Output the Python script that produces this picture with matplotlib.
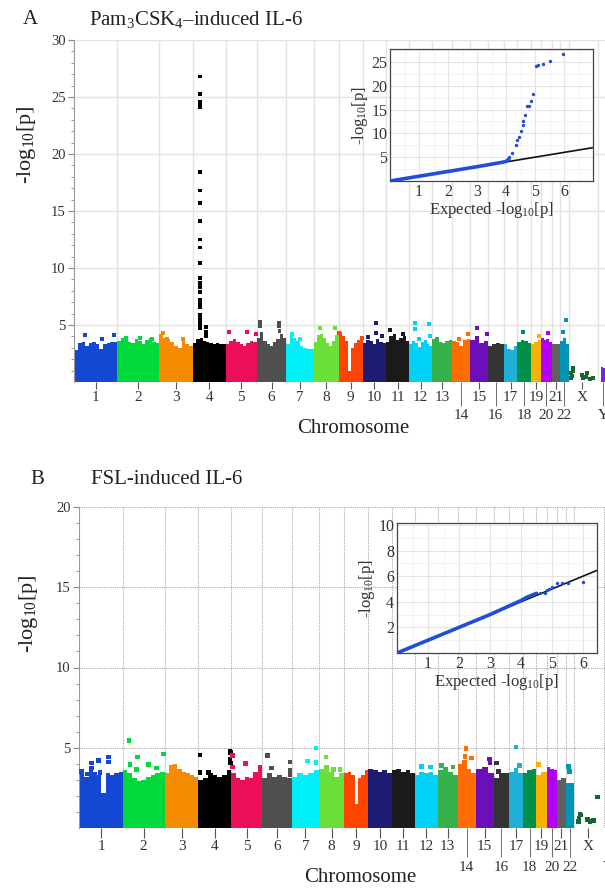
import matplotlib
matplotlib.use("Agg")
import matplotlib.pyplot as plt
import numpy as np

plt.rcParams['font.family'] = ['Liberation Serif', 'DejaVu Serif']
plt.rcParams['mathtext.fontset'] = 'custom'
plt.rcParams['mathtext.rm'] = 'Liberation Serif'
plt.rcParams['mathtext.it'] = 'Liberation Serif:italic'
plt.rcParams['text.color'] = '#222222'

W, H = 605, 891

# chromosomes and sizes (Mb)
chroms = [str(i) for i in range(1, 23)] + ['X', 'Y']
chrom_len = [249.3, 243.2, 198.0, 191.2, 180.9, 171.1, 159.1, 146.4, 141.2, 135.5,
             135.0, 133.9, 115.2, 107.3, 102.5, 90.4, 81.2, 78.1, 59.1, 63.0,
             48.1, 51.3, 155.3, 59.4]
chrom_colors = ['#1347d4', '#00d83c', '#f58b00', '#000000', '#ec0f57', '#4f4f4f',
                '#00f0f8', '#69df38', '#ff4300', '#1e1b73', '#1a1a1a', '#00d2f7',
                '#35b24c', '#ff6c00', '#6b0fb8', '#343434', '#1fb0d9', '#00904a',
                '#f7b100', '#b200f5', '#606060', '#0094b5', '#12682f', '#7b22e0']
lower_row = ['14', '16', '18', '20', '22', 'Y']

# top envelope of the dense SNP mass, per chromosome (panel A)
sky_a = [
    [2.8, 3.4, 3.5, 3.2, 3.4, 3.5, 3.3, 2.9, 3.3, 3.4, 3.5, 3.5],
    [3.6, 3.9, 4.0, 3.5, 3.4, 3.8, 3.6, 3.3, 3.7, 3.9, 3.5, 3.4],
    [4.2, 3.9, 3.8, 3.5, 3.2, 3.0, 3.6, 3.3, 3.2],
    [3.4, 3.8, 3.9, 3.6, 3.5, 3.4, 3.3, 3.4, 3.3, 3.3],
    [3.3, 3.6, 3.8, 3.5, 3.3, 3.2, 3.4, 3.6, 3.5],
    [3.9, 4.4, 3.6, 3.3, 3.2, 3.5, 3.8, 4.2, 3.9],
    [3.3, 4.2, 3.9, 3.6, 3.2, 3.0, 2.9, 2.9],
    [3.5, 4.1, 4.2, 3.9, 3.4, 3.2, 3.6, 4.1],
    [4.4, 4.0, 3.6, 1.0, 3.0, 3.4, 3.7, 3.9],
    [3.4, 3.7, 3.6, 3.3, 3.8, 3.5, 3.4],
    [3.5, 4.0, 4.2, 3.7, 3.9, 4.0, 3.6],
    [3.3, 3.6, 3.4, 3.1, 3.5, 3.7, 3.3, 3.2],
    [3.8, 3.7, 3.5, 3.4, 3.6, 3.7],
    [3.6, 3.5, 3.2, 3.7, 3.8],
    [3.7, 4.0, 3.4, 3.6],
    [3.2, 3.3, 3.4, 3.3],
    [3.3, 2.9, 2.8, 3.2],
    [3.5, 3.7, 3.6, 3.4],
    [3.3, 3.5, 3.7],
    [3.9, 3.7, 3.8, 3.5],
    [3.3, 3.3],
    [3.6, 3.9, 3.3],
    [0.0],
    [0.0, 1.3, 1.2, 0.9],
]

# single SNPs standing above the mass (panel A)
out_a_chr = ['1', '1', '1', '2', '2', '3', '3', '3'] + ['4'] * 27 + \
    ['5', '5', '5', '6', '6', '6', '6', '6', '7', '7', '8', '8', '9', '9',
     '10', '10', '10', '10', '11', '11', '12', '12', '12', '12', '12', '13',
     '14', '14', '15', '15', '18', '19', '20', '22', '22'] + ['X'] * 11
out_a_pos = [61, 158, 232, 132, 200, 21, 45, 138] + [38.8] * 24 + [75, 75, 76] + \
    [20, 122, 176, 19, 19, 130, 130, 132, 32, 80, 38, 125, 3, 134,
     76, 76, 32, 109, 23, 100, 33, 33, 117, 121, 57, 26,
     43, 92, 37, 95, 34, 49, 42, 33, 19] + \
    [22, 24, 10, 15, 75, 104, 123, 84, 138, 100, 18]
out_a_val = [4.1, 3.8, 4.1, 3.9, 3.8, 4.3, 3.8, 3.8] + \
    [26.8, 25.3, 24.6, 24.3, 24.1, 18.4, 16.8, 15.7, 14.1, 12.5, 11.8, 10.4,
     9.1, 8.7, 8.3, 7.9, 7.2, 6.9, 6.6, 5.9, 5.6, 5.3, 5.0, 4.7, 4.8, 4.4, 4.0] + \
    [4.35, 4.35, 4.2, 5.3, 4.9, 5.2, 4.9, 4.5, 4.2, 3.8, 4.7, 4.7, 4.3, 3.9,
     5.15, 4.3, 3.95, 4.0, 4.55, 4.2, 5.2, 4.65, 5.1, 4.0, 3.8, 3.8,
     3.8, 4.2, 4.7, 4.2, 4.35, 4.0, 4.3, 5.45, 4.35] + \
    [1.2, 1.0, 0.35, 0.8, 0.6, 0.75, 0.3, 0.35, 0.35, 0.4, 0.5]

# panel B
sky_b = [
    [3.5, 3.2, 3.6, 3.5, 3.3, 2.2, 3.4, 3.3, 3.4, 3.5],
    [3.6, 3.4, 3.1, 2.9, 3.0, 3.2, 3.3, 3.4, 3.5],
    [3.4, 3.9, 4.0, 3.7, 3.5, 3.4, 3.3, 3.2],
    [3.0, 3.1, 3.4, 3.3, 3.2, 3.3, 3.6],
    [3.4, 3.1, 3.0, 3.2, 3.1, 3.5, 3.9],
    [3.1, 3.4, 3.2, 3.3, 3.2, 3.1],
    [3.2, 3.4, 3.3, 3.4, 3.6],
    [3.7, 3.9, 3.5, 3.2, 3.4],
    [3.4, 3.5, 3.3, 1.5, 3.1, 3.3, 3.6],
    [3.7, 3.6, 3.5, 3.6, 3.4],
    [3.6, 3.7, 3.5, 3.6, 3.4],
    [3.3, 3.5, 3.4, 3.5, 3.3],
    [3.6, 3.8, 3.5, 3.3],
    [4.0, 4.2, 3.7, 3.4],
    [3.7, 3.8, 3.4],
    [3.1, 3.4, 3.4],
    [3.5, 3.6, 3.4],
    [3.4, 3.6, 3.7],
    [3.3, 3.5],
    [3.8, 3.7, 3.6],
    [3.0, 3.1],
    [2.8, 2.8],
    [0.0],
    [0.0],
]

out_b_chr = ['1'] * 8 + ['2'] * 7 + ['4'] * 7 + ['5'] * 3 + ['6'] * 5 + ['7'] * 3 + \
    ['8'] * 3 + ['12'] * 2 + ['13'] * 2 + ['14'] * 4 + ['15'] * 2 + ['16'] * 2 + \
    ['17'] * 3 + ['19'] + ['22'] * 2 + ['X'] * 8
out_b_pos = [68, 107, 165, 165, 68, 117, 10, 43,
             36, 85, 42, 81, 149, 198, 236,
             9, 9, 57, 184, 186, 184, 185,
             6, 6, 84,
             29, 55, 162, 162, 162,
             91, 142, 142,
             41, 84, 123,
             40, 93,
             23, 90,
             50, 44, 83, 40,
             78, 82,
             19, 28,
             41, 60, 41,
             11,
             16, 22,
             23, 33, 38, 75, 110, 90, 136, 28]
out_b_val = [4.04, 4.2, 4.42, 4.1, 3.73, 3.46, 3.52, 3.37,
             5.46, 4.42, 3.94, 3.63, 3.94, 3.73, 4.62,
             4.56, 3.46, 3.46, 4.77, 4.7, 4.25, 4.04,
             4.5, 3.8, 4.0,
             4.5, 3.73, 4.1, 3.6, 3.35,
             4.17, 4.98, 4.08,
             4.42, 3.63, 3.63,
             3.83, 3.79,
             3.9, 3.79,
             4.94, 4.46, 4.35, 4.1,
             4.31, 4.04,
             4.04, 3.52,
             5.04, 3.9, 3.6,
             3.94,
             3.83, 3.52,
             0.4, 0.87, 0.8, 0.54, 0.46, 0.4, 1.92, 0.6]

# QQ plots: dense band drawn as a thick line, tail as dots
qq_a_line_x = [0, 1, 2, 3, 3.8, 4.0, 4.1]
qq_a_line_y = [0, 1, 2, 3, 3.85, 4.1, 4.6]
qq_a_dot_x = [4.1, 4.21, 4.33, 4.39, 4.45, 4.5, 4.57, 4.6, 4.67, 4.74, 4.79, 4.86,
              4.94, 5.03, 5.12, 5.26, 5.5, 5.98]
qq_a_dot_y = [5.1, 5.95, 7.56, 8.6, 9.2, 10.4, 11.8, 12.5, 13.9, 15.7, 15.8, 16.8,
              18.3, 24.1, 24.3, 24.6, 25.2, 26.7]
qq_b_line_x = [0, 1, 2, 3, 4.0, 4.18, 4.5]
qq_b_line_y = [0, 1, 2, 3, 4.1, 4.35, 4.66]
qq_b_dot_x = [4.6, 4.77, 4.83, 4.9, 4.99, 5.15, 5.31, 5.52, 6.01]
qq_b_dot_y = [4.68, 4.7, 4.9, 5.0, 5.13, 5.45, 5.5, 5.5, 5.55]

SCALE = 0.1716          # px per Mb
starts = np.concatenate([[0], np.cumsum(chrom_len[:-1])])
starts[-1] += 15        # small gap before Y
centers = starts + np.array(chrom_len) / 2
bounds = starts[1:]

fig = plt.figure(figsize=(W / 100, H / 100), dpi=100)


def px_axes(l, t, r, b):
    return fig.add_axes([l / W, 1 - b / H, (r - l) / W, (b - t) / H])


def manhattan(ax, sky, o_chr, o_pos, o_val, msize):
    for i, h in enumerate(sky):
        edges = np.linspace(starts[i], starts[i] + chrom_len[i], len(h) + 1)
        ax.stairs(h, edges, fill=True, color=chrom_colors[i], lw=0, zorder=2)
    idx = [chroms.index(c) for c in o_chr]
    xs = [starts[i] + p for i, p in zip(idx, o_pos)]
    ax.scatter(xs, o_val, marker='s', s=msize, c=[chrom_colors[i] for i in idx],
               lw=0, zorder=3)


def style_main(ax, left_px, s1_px, ymax, grid_kw, short_t, long_t):
    ax.set_xlim((left_px - s1_px) / SCALE, (640 - s1_px) / SCALE)
    ax.set_ylim(0, ymax)
    for b in bounds:
        ax.axvline(b, zorder=0, **grid_kw)
    for yv in range(5, ymax + 1, 5):
        ax.axhline(yv, zorder=0, **grid_kw)
    for s in ['top', 'right', 'bottom']:
        ax.spines[s].set_visible(False)
    ax.spines['left'].set_color('#999999')
    ax.set_yticks(range(5, ymax + 1, 5))
    ax.set_yticks(range(1, ymax), minor=True)
    ax.tick_params(axis='y', which='major', length=4.5, color='#888888',
                   labelsize=10.5, labelcolor='#333333', pad=1.5)
    ax.tick_params(axis='y', which='minor', length=2, color='#888888')
    up = [i for i, c in enumerate(chroms) if c not in lower_row]
    lo = [i for i, c in enumerate(chroms) if c in lower_row]
    ax.set_xticks(centers[up], [chroms[i] for i in up])
    ax.set_xticks(centers[lo], [chroms[i] for i in lo], minor=True)
    ax.tick_params(axis='x', which='major', length=short_t, color='#555555',
                   labelsize=11, labelcolor='#333333', pad=1.5)
    ax.tick_params(axis='x', which='minor', length=long_t, color='#555555',
                   labelsize=11, labelcolor='#333333', pad=2.5)


def qq_inset(ax, xmax, ymax, yt, lx, ly, dx, dy):
    ax.set_xlim(0, xmax)
    ax.set_ylim(0, ymax)
    ax.plot([0, xmax], [0, xmax], color='#111111', lw=1.2, zorder=2)
    ax.plot(lx, ly, color='#1f4fd8', lw=2.6, solid_capstyle='round', zorder=3)
    ax.scatter(dx, dy, s=6, color='#1f4fd8', lw=0, zorder=4)
    ax.set_xticks(range(1, 7))
    ax.set_yticks(yt)
    ax.set_xticks(np.arange(0.5, xmax, 0.5), minor=True)
    ax.set_yticks(np.arange(yt[0] / 2, ymax, yt[0] / 2), minor=True)
    ax.grid(which='major', color='#e4e4e4', lw=0.8)
    ax.grid(which='minor', color='#f1f1f1', lw=0.6)
    ax.set_axisbelow(True)
    ax.tick_params(which='both', length=0, labelsize=11.5, labelcolor='#333333', pad=2)
    for s in ax.spines.values():
        s.set_color('#444444')
        s.set_linewidth(0.9)
    ax.set_xlabel(r'Expected -log$_{10}$[p]', fontsize=12, labelpad=0, color='#333333')
    ax.set_ylabel(r'-log$_{10}$[p]', fontsize=12, labelpad=1, color='#333333')


# ---- panel A
ax_a = px_axes(74, 40, 640, 382)
manhattan(ax_a, sky_a, out_a_chr, out_a_pos, out_a_val, 8)
style_main(ax_a, 74, 74.5, 30, dict(color='#e3e3e3', lw=1), 5, 17)

ia = px_axes(390, 49, 593, 181)
qq_inset(ia, 7, 27.7, [5, 10, 15, 20, 25], qq_a_line_x, qq_a_line_y, qq_a_dot_x, qq_a_dot_y)

# ---- panel B
ax_b = px_axes(79, 507, 640, 828)
manhattan(ax_b, sky_b, out_b_chr, out_b_pos, out_b_val, 11)
style_main(ax_b, 79, 80, 20, dict(color='#aaaaaa', lw=0.8, ls=(0, (1, 1))), 7, 21)

ib = px_axes(397, 523, 597, 653)
qq_inset(ib, 6.45, 10.15, [2, 4, 6, 8, 10], qq_b_line_x, qq_b_line_y, qq_b_dot_x, qq_b_dot_y)

# ---- text
def ftext(x, y, s, **kw):
    fig.text(x / W, 1 - y / H, s, va='center', **kw)

ftext(30, 20, 'A', ha='center', fontsize=15)
ftext(89, 20, r'Pam$_3$CSK$_4$–induced IL-6', ha='left', fontsize=15)
ftext(37, 480, 'B', ha='center', fontsize=15)
ftext(91, 480, 'FSL-induced IL-6', ha='left', fontsize=15)
ftext(27, 145, r'-log$_{10}$[p]', ha='center', rotation=90, fontsize=16)
ftext(29, 614, r'-log$_{10}$[p]', ha='center', rotation=90, fontsize=16)
ftext(353, 428, 'Chromosome', ha='center', fontsize=15)
ftext(360, 877, 'Chromosome', ha='center', fontsize=15)

fig.savefig('out.png', dpi=100)
